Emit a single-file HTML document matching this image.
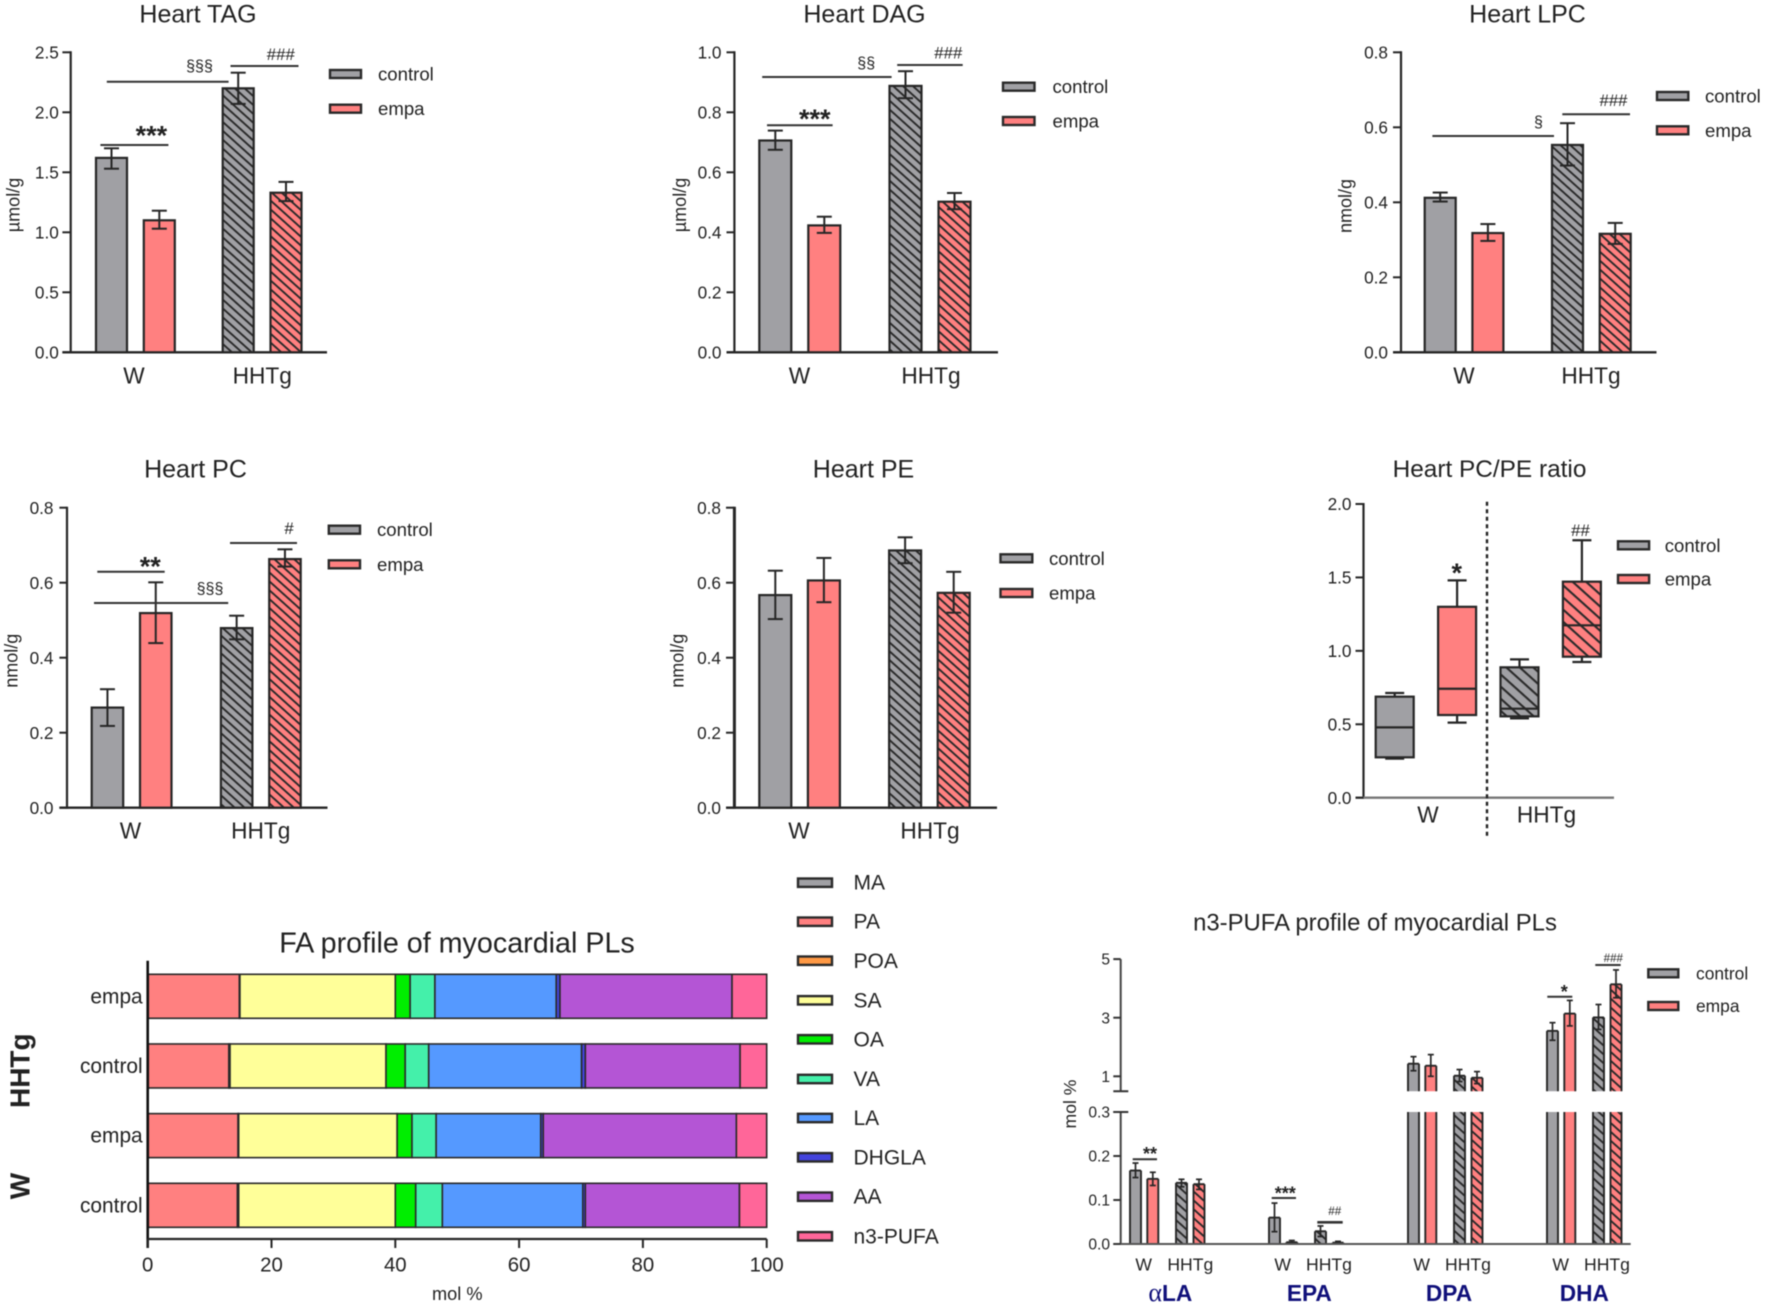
<!DOCTYPE html>
<html lang="en">
<head>
<meta charset="utf-8">
<title>Myocardial lipid panels</title>
<style>
html,body{margin:0;padding:0;background:#fff;}
svg{display:block;filter:blur(0.45px);}
text{font-family:"Liberation Sans",Arial,sans-serif;fill:#222;}
.title{font-size:25px;text-anchor:middle;}
.cat{font-size:22.7px;text-anchor:middle;}
.leg{font-size:18.6px;}
.ylab{font-size:18px;text-anchor:middle;}
.sec{font-size:16px;text-anchor:middle;}
.hash{font-size:16.8px;text-anchor:middle;}
.star{font-size:27px;text-anchor:middle;font-weight:bold;}
.sig{stroke:#333;stroke-width:2;}
.sw{stroke:#2a2a2a;stroke-width:2.4;}
.gray{fill:#a0a0a4;}
.red{fill:#ff8080;}
.falegt{font-size:21px;}
.group{font-size:28px;font-weight:bold;text-anchor:middle;}
.cat2{font-size:17.6px;text-anchor:middle;}
.fam{font-size:22.7px;font-weight:bold;text-anchor:middle;fill:#10107a;}
.leg2{font-size:17.4px;}
</style>
</head>
<body>
<svg id="figure" xmlns="http://www.w3.org/2000/svg" width="1772" height="1313" viewBox="0 0 1772 1313">
<defs>
<pattern id="hatch-gray" width="6.6" height="6.6" patternUnits="userSpaceOnUse" patternTransform="rotate(42)">
<rect width="6.6" height="6.6" fill="#a0a0a4"/><rect y="0" width="6.6" height="1.9" fill="#2a2a2a"/>
</pattern>
<pattern id="hatch-red" width="6.6" height="6.6" patternUnits="userSpaceOnUse" patternTransform="rotate(42)">
<rect width="6.6" height="6.6" fill="#ff8080"/><rect y="0" width="6.6" height="1.9" fill="#2a2a2a"/>
</pattern>
<pattern id="hatch-gray-wide" width="9" height="9" patternUnits="userSpaceOnUse" patternTransform="rotate(42)">
<rect width="9" height="9" fill="#a0a0a4"/><rect y="0" width="9" height="2.1" fill="#2a2a2a"/>
</pattern>
<pattern id="hatch-red-wide" width="9" height="9" patternUnits="userSpaceOnUse" patternTransform="rotate(42)">
<rect width="9" height="9" fill="#ff8080"/><rect y="0" width="9" height="2.1" fill="#2a2a2a"/>
</pattern>
</defs>
<g id="marks"></g>

<!-- Heart TAG -->
<g transform="translate(-1,0)">
<text class="title" x="199" y="22.5">Heart TAG</text>
<text class="ylab" transform="translate(20.5,205) rotate(-90)">µmol/g</text>
<text class="cat" x="135" y="383.5">W</text>
<text class="cat" x="263.2" y="383.5">HHTg</text>
<line class="sig" x1="107.8" x2="229.6" y1="81.7" y2="81.7"/>
<text class="sec" x="200.5" y="71">§§§</text>
<line class="sig" x1="231.5" x2="299.5" y1="66" y2="66"/>
<text class="hash" x="281.8" y="60">###</text>
<line class="sig" x1="101.4" x2="169.4" y1="145" y2="145"/>
<text class="star" x="152.4" y="144.4">***</text>
<rect class="sw gray" x="331" y="70" width="31" height="8"/>
<text class="leg" x="379" y="80.5">control</text>
<rect class="sw red" x="331" y="104.7" width="31" height="8"/>
<text class="leg" x="379" y="115.2">empa</text>
</g>

<!-- Heart DAG -->
<g transform="translate(-1,0)">
<text class="title" x="865.5" y="22.5">Heart DAG</text>
<text class="ylab" transform="translate(687,205) rotate(-90)">µmol/g</text>
<text class="cat" x="800.5" y="383.5">W</text>
<text class="cat" x="932" y="383.5">HHTg</text>
<line class="sig" x1="763.2" x2="892.6" y1="77" y2="77"/>
<text class="sec" x="867.2" y="67.8">§§</text>
<line class="sig" x1="898.2" x2="963.7" y1="65" y2="65"/>
<text class="hash" x="949.3" y="58.3">###</text>
<line class="sig" x1="768" x2="833.6" y1="125.3" y2="125.3"/>
<text class="star" x="815.8" y="127.8">***</text>
<rect class="sw gray" x="1004" y="82.7" width="31.5" height="8"/>
<text class="leg" x="1053.5" y="93.2">control</text>
<rect class="sw red" x="1004" y="117" width="31.5" height="8"/>
<text class="leg" x="1053.5" y="127.5">empa</text>
</g>

<!-- Heart LPC -->
<g>
<text class="title" x="1527.5" y="22.5">Heart LPC</text>
<text class="ylab" transform="translate(1351.5,206) rotate(-90)">nmol/g</text>
<text class="cat" x="1464" y="383.5">W</text>
<text class="cat" x="1591" y="383.5">HHTg</text>
<line class="sig" x1="1432.4" x2="1554" y1="136" y2="136"/>
<text class="sec" x="1538.5" y="126.8">§</text>
<line class="sig" x1="1562.3" x2="1630" y1="114.3" y2="114.3"/>
<text class="hash" x="1613.5" y="106">###</text>
<rect class="sw gray" x="1657" y="92" width="31.3" height="8"/>
<text class="leg" x="1705" y="102.5">control</text>
<rect class="sw red" x="1657" y="126.3" width="31.3" height="8"/>
<text class="leg" x="1705" y="136.8">empa</text>
</g>

<!-- Heart PC -->
<g transform="translate(-1,0)">
<text class="title" x="196.5" y="477.7">Heart PC</text>
<text class="ylab" transform="translate(18.5,660.7) rotate(-90)">nmol/g</text>
<text class="cat" x="131.5" y="838.7">W</text>
<text class="cat" x="261.7" y="838.7">HHTg</text>
<line class="sig" x1="98.3" x2="165.7" y1="571.7" y2="571.7"/>
<text class="star" x="151.3" y="575.4">**</text>
<line class="sig" x1="95" x2="229.2" y1="603" y2="603"/>
<text class="sec" x="211" y="593.5">§§§</text>
<line class="sig" x1="231" x2="298" y1="543" y2="543"/>
<text class="hash" x="290" y="534">#</text>
<rect class="sw gray" x="329.8" y="525.7" width="31.2" height="8"/>
<text class="leg" x="378" y="536.2">control</text>
<rect class="sw red" x="329.8" y="560.3" width="31.2" height="8"/>
<text class="leg" x="378" y="570.8">empa</text>
</g>

<!-- Heart PE -->
<g transform="translate(-1,0)">
<text class="title" x="864.5" y="477.7">Heart PE</text>
<text class="ylab" transform="translate(684.5,660.7) rotate(-90)">nmol/g</text>
<text class="cat" x="800" y="838.7">W</text>
<text class="cat" x="931" y="838.7">HHTg</text>
<rect class="sw gray" x="1001.5" y="554.3" width="31.8" height="8"/>
<text class="leg" x="1050" y="564.8">control</text>
<rect class="sw red" x="1001.5" y="589" width="31.8" height="8"/>
<text class="leg" x="1050" y="599.5">empa</text>
</g>

<!-- Heart PC/PE ratio -->
<g>
<text class="title" x="1489.5" y="477" style="font-size:24.4px">Heart PC/PE ratio</text>
<text class="cat" x="1428" y="822.7">W</text>
<text class="cat" x="1546.5" y="822.7">HHTg</text>
<line x1="1487" x2="1487" y1="501.7" y2="835.7" stroke="#222" stroke-width="2.4" stroke-dasharray="4 3.5"/>
<text class="star" x="1456.8" y="582">*</text>
<text class="hash" x="1580.5" y="536">##</text>
<rect class="sw gray" x="1618" y="541.3" width="31.1" height="8"/>
<text class="leg" x="1664.7" y="551.8">control</text>
<rect class="sw red" x="1618" y="575" width="31.1" height="8"/>
<text class="leg" x="1664.7" y="585.5">empa</text>
</g>

<!-- FA profile -->
<g>
<text x="457" y="952.7" text-anchor="middle" font-size="28.7">FA profile of myocardial PLs</text>
<text class="group" transform="translate(29.3,1070.7) rotate(-90)">HHTg</text>
<text class="group" transform="translate(29.3,1186) rotate(-90)">W</text>
<text x="457.3" y="1300" text-anchor="middle" font-size="18.2">mol %</text>
<rect class="sw" fill="#a0a0a4" x="798" y="878.5" width="34" height="8.4"/>
<text class="falegt" x="853.5" y="889.5">MA</text>
<rect class="sw" fill="#ff8080" x="798" y="917.5" width="34" height="8.4"/>
<text class="falegt" x="853.5" y="928.7">PA</text>
<rect class="sw" fill="#ff9944" x="798" y="956.5" width="34" height="8.4"/>
<text class="falegt" x="853.5" y="968.2">POA</text>
<rect class="sw" fill="#ffff99" x="798" y="996.1" width="34" height="8.4"/>
<text class="falegt" x="853.5" y="1007.3">SA</text>
<rect class="sw" fill="#00ee00" x="798" y="1035.1" width="34" height="8.4"/>
<text class="falegt" x="853.5" y="1046.3">OA</text>
<rect class="sw" fill="#44f0aa" x="798" y="1074.8" width="34" height="8.4"/>
<text class="falegt" x="853.5" y="1086">VA</text>
<rect class="sw" fill="#5599ff" x="798" y="1113.8" width="34" height="8.4"/>
<text class="falegt" x="853.5" y="1125">LA</text>
<rect class="sw" fill="#4444dd" x="798" y="1153.1" width="34" height="8.4"/>
<text class="falegt" x="853.5" y="1164.3">DHGLA</text>
<rect class="sw" fill="#b455d5" x="798" y="1192.5" width="34" height="8.4"/>
<text class="falegt" x="853.5" y="1203.7">AA</text>
<rect class="sw" fill="#ff6699" x="798" y="1232.1" width="34" height="8.4"/>
<text class="falegt" x="853.5" y="1243.3">n3-PUFA</text>
</g>

<!-- n3-PUFA profile -->
<g>
<text x="1375" y="930.7" text-anchor="middle" font-size="23.9">n3-PUFA profile of myocardial PLs</text>
<text class="cat2" transform="translate(1076,1104) rotate(-90)">mol %</text>
<text class="cat2" x="1143.7" y="1270.7">W</text>
<text class="cat2" x="1190.3" y="1270.7">HHTg</text>
<text class="cat2" x="1282.7" y="1270.7">W</text>
<text class="cat2" x="1329" y="1270.7">HHTg</text>
<text class="cat2" x="1421.7" y="1270.7">W</text>
<text class="cat2" x="1468" y="1270.7">HHTg</text>
<text class="cat2" x="1560.7" y="1270.7">W</text>
<text class="cat2" x="1607" y="1270.7">HHTg</text>
<text class="fam" x="1170.3" y="1301"><tspan style="font-family:'Liberation Serif',serif;font-weight:normal;font-size:26px;fill:#10107a">α</tspan>LA</text>
<text class="fam" x="1309.3" y="1301">EPA</text>
<text class="fam" x="1449" y="1301">DPA</text>
<text class="fam" x="1584.3" y="1301">DHA</text>
<line class="sig" x1="1132.7" x2="1157" y1="1159.3" y2="1159.3"/>
<text class="star" style="font-size:18px" x="1150" y="1160">**</text>
<line class="sig" x1="1271.7" x2="1296" y1="1198" y2="1198"/>
<text class="star" style="font-size:18px" x="1285.3" y="1199.5">***</text>
<line class="sig" style="stroke-width:2.6" x1="1317.3" x2="1342.7" y1="1222.3" y2="1222.3"/>
<text class="hash" style="font-size:11.7px" x="1334.7" y="1215.2">##</text>
<line class="sig" x1="1547.3" x2="1572.3" y1="996.7" y2="996.7"/>
<text class="star" style="font-size:18px" x="1564.3" y="997.8">*</text>
<line class="sig" x1="1595.3" x2="1620.7" y1="965" y2="965"/>
<text class="hash" style="font-size:11.6px" x="1613.3" y="961.9">###</text>
<rect class="sw gray" x="1648.3" y="969.3" width="30" height="8"/>
<text class="leg2" x="1696" y="979.4">control</text>
<rect class="sw red" x="1648.3" y="1002" width="30" height="8"/>
<text class="leg2" x="1696" y="1012.1">empa</text>
</g>
</svg>

<script>
// ---- Data: order is W control, W empa, HHTg control, HHTg empa ----
const tagValues = [1.62, 1.10, 2.20, 1.33];
const tagErrHigh = [1.70, 1.18, 2.33, 1.42];
const tagErrLow = [1.53, 1.03, 2.07, 1.26];
const tagTicks = [0, 0.5, 1.0, 1.5, 2.0, 2.5];

const dagValues = [0.706, 0.423, 0.888, 0.502];
const dagErrHigh = [0.739, 0.452, 0.937, 0.531];
const dagErrLow = [0.675, 0.398, 0.847, 0.477];
const dagTicks = [0, 0.2, 0.4, 0.6, 0.8, 1.0];

const lpcValues = [0.412, 0.318, 0.553, 0.316];
const lpcErrHigh = [0.426, 0.342, 0.611, 0.345];
const lpcErrLow = [0.402, 0.297, 0.498, 0.289];
const lpcTicks = [0, 0.2, 0.4, 0.6, 0.8];

const pcValues = [0.267, 0.519, 0.479, 0.663];
const pcErrHigh = [0.316, 0.601, 0.512, 0.689];
const pcErrLow = [0.218, 0.439, 0.449, 0.643];
const pcTicks = [0, 0.2, 0.4, 0.6, 0.8];

const peValues = [0.567, 0.606, 0.686, 0.573];
const peErrHigh = [0.632, 0.666, 0.721, 0.629];
const peErrLow = [0.503, 0.548, 0.652, 0.520];
const peTicks = [0, 0.2, 0.4, 0.6, 0.8];

const ratioWhiskerHigh = [0.713, 1.48, 0.942, 1.753];
const ratioQ3 = [0.688, 1.30, 0.888, 1.471];
const ratioMedian = [0.479, 0.742, 0.606, 1.174];
const ratioQ1 = [0.275, 0.563, 0.554, 0.96];
const ratioWhiskerLow = [0.266, 0.511, 0.54, 0.924];
const ratioTicks = [0, 0.5, 1.0, 1.5, 2.0];

// FA stacked bars: control W, empa W, control HHTg, empa HHTg
const faCategories = ['control', 'empa', 'control', 'empa'];
const faMA = [0.1, 0.1, 0.1, 0.1];
const faPA = [14.4, 14.5, 13.0, 14.7];
const faPOA = [0.2, 0.1, 0.2, 0.1];
const faSA = [25.3, 25.6, 25.2, 25.1];
const faOA = [3.3, 2.4, 3.1, 2.4];
const faVA = [4.3, 3.9, 3.8, 4.0];
const faLA = [22.7, 16.9, 24.7, 19.6];
const faDHGLA = [0.4, 0.4, 0.6, 0.6];
const faAA = [24.9, 31.2, 25.0, 27.8];
const faN3 = [4.4, 4.9, 4.3, 5.6];
const faTicks = [0, 20, 40, 60, 80, 100];

// n3-PUFA: each family W control, W empa, HHTg control, HHTg empa
const n3AlaValues = [0.167, 0.148, 0.139, 0.136];
const n3AlaHigh = [0.184, 0.163, 0.147, 0.147];
const n3AlaLow = [0.151, 0.133, 0.130, 0.124];
const n3EpaValues = [0.060, 0.004, 0.029, 0.003];
const n3EpaHigh = [0.093, 0.008, 0.041, 0.006];
const n3EpaLow = [0.028, 0.000, 0.017, 0.000];
const n3DpaValues = [1.43, 1.36, 1.02, 0.95];
const n3DpaHigh = [1.67, 1.74, 1.23, 1.16];
const n3DpaLow = [1.19, 1.00, 0.82, 0.75];
const n3DhaValues = [2.55, 3.14, 3.01, 4.14];
const n3DhaHigh = [2.83, 3.59, 3.45, 4.63];
const n3DhaLow = [2.23, 2.72, 2.60, 3.68];
const n3UpperTicks = [1, 3, 5];
const n3LowerTicks = [0, 0.1, 0.2, 0.3];

// ---- Drawing ----
const NS = 'http://www.w3.org/2000/svg';
const root = document.getElementById('marks');
const INK = '#262626';
const FILLS = ['#a0a0a4', '#ff8080', 'url(#hatch-gray)', 'url(#hatch-red)'];
const BOX_FILLS = ['#a0a0a4', '#ff8080', 'url(#hatch-gray-wide)', 'url(#hatch-red-wide)'];
const BAR_NAMES = ['w-control', 'w-empa', 'hhtg-control', 'hhtg-empa'];

function mk(parent, tag, attrs, name) {
  const el = document.createElementNS(NS, tag);
  for (const k in attrs) el.setAttribute(k, attrs[k]);
  
  
  parent.appendChild(el);
  return el;
}
function line(parent, x1, y1, x2, y2, w, name, color) {
  return mk(parent, 'line', {x1, y1, x2, y2, stroke: color || INK, 'stroke-width': w}, name);
}
function label(parent, x, y, str, size, anchor, name) {
  const t = mk(parent, 'text', {x, y, 'font-size': size, 'text-anchor': anchor}, name);
  t.textContent = str;
  return t;
}
function yAxis(g, c, ticks) {
  const yS = v => c.base - (v / c.max) * (c.base - c.top);
  line(g, c.axisX, c.top - 1, c.axisX, c.base + 1, c.axisW || 2.2, 'y-axis');
  line(g, c.tickX, c.base, c.end, c.base, 2.4, 'x-axis', c.baseColor);
  ticks.forEach(t => {
    line(g, c.tickX, yS(t), c.axisX, yS(t), 2, 'y-tick');
    label(g, c.labelX, yS(t) + 6.2, t.toFixed(1), 17.2, 'end', 'y-tick-label');
  });
  return yS;
}
function barPanel(name, c, ticks, values, high, low) {
  const g = mk(root, 'g', {}, name);
  const yS = yAxis(g, c, ticks);
  values.forEach((v, i) => {
    const x = c.start + i * c.pitch + (i >= 2 ? c.gap : 0);
    mk(g, 'rect', {x, y: yS(v), width: c.w, height: c.base - yS(v), fill: FILLS[i], stroke: INK, 'stroke-width': 2.2}, 'bar-' + BAR_NAMES[i]);
    const cx = x + c.w / 2;
    line(g, cx, yS(high[i]), cx, yS(low[i]), 2, 'error-bar');
    line(g, cx - 7.5, yS(high[i]), cx + 7.5, yS(high[i]), 2, 'error-cap-high');
    line(g, cx - 7.5, yS(low[i]), cx + 7.5, yS(low[i]), 2, 'error-cap-low');
  });
}

barPanel('heart-tag-chart', {axisX: 70.7, tickX: 62.4, labelX: 58.8, top: 52.3, base: 352.3, end: 327, max: 2.5, start: 96, w: 31, pitch: 47.8, gap: 31.1}, tagTicks, tagValues, tagErrHigh, tagErrLow);
barPanel('heart-dag-chart', {axisX: 734.4, tickX: 726.5, labelX: 721.5, top: 52.3, base: 352.3, end: 998, max: 1, start: 759.3, w: 32, pitch: 49, gap: 32.2}, dagTicks, dagValues, dagErrHigh, dagErrLow);
barPanel('heart-lpc-chart', {axisX: 1401, tickX: 1393, labelX: 1388, top: 52.3, base: 352.3, end: 1656.5, max: 0.8, start: 1424.7, w: 31, pitch: 47.7, gap: 31.9}, lpcTicks, lpcValues, lpcErrHigh, lpcErrLow);
barPanel('heart-pc-chart', {axisX: 67, tickX: 59.4, labelX: 53.5, top: 507.7, base: 807.7, end: 327.5, max: 0.8, start: 91.7, w: 31.5, pitch: 48.3, gap: 32.6}, pcTicks, pcValues, pcErrHigh, pcErrLow);
barPanel('heart-pe-chart', {axisX: 734.4, tickX: 726, labelX: 721, top: 507.7, base: 807.7, end: 997, max: 0.8, axisW: 3, start: 759.3, w: 32, pitch: 48.6, gap: 32.6}, peTicks, peValues, peErrHigh, peErrLow);

// Box plot
(function () {
  const c = {axisX: 1363.5, tickX: 1355.5, labelX: 1351.5, top: 504, base: 797.7, end: 1614, max: 2, baseColor: '#777', start: 1375.7, w: 38, pitch: 62.4};
  const g = mk(root, 'g', {}, 'heart-ratio-chart');
  const yS = yAxis(g, c, ratioTicks);
  ratioMedian.forEach((m, i) => {
    const x = c.start + i * c.pitch;
    const cx = x + c.w / 2;
    line(g, cx, yS(ratioWhiskerHigh[i]), cx, yS(ratioWhiskerLow[i]), 2.2, 'box-whisker');
    line(g, cx - 9.5, yS(ratioWhiskerHigh[i]), cx + 9.5, yS(ratioWhiskerHigh[i]), 2.2, 'box-whisker-cap');
    line(g, cx - 9.5, yS(ratioWhiskerLow[i]), cx + 9.5, yS(ratioWhiskerLow[i]), 2.2, 'box-whisker-cap');
    mk(g, 'rect', {x, y: yS(ratioQ3[i]), width: c.w, height: yS(ratioQ1[i]) - yS(ratioQ3[i]), fill: BOX_FILLS[i], stroke: INK, 'stroke-width': 2.2}, 'box-' + BAR_NAMES[i]);
    line(g, x, yS(m), x + c.w, yS(m), 2.2, 'box-median');
  });
})();

// FA stacked bars
const faSeries = [faMA, faPA, faPOA, faSA, faOA, faVA, faLA, faDHGLA, faAA, faN3];
const faSeriesNames = ['ma', 'pa', 'poa', 'sa', 'oa', 'va', 'la', 'dhgla', 'aa', 'n3-pufa'];
const faColors = ['#a0a0a4', '#ff8080', '#ff9944', '#ffff99', '#00ee00', '#44f0aa', '#5599ff', '#4444dd', '#b455d5', '#ff6699'];
(function () {
  const g = mk(root, 'g', {}, 'fa-profile-chart');
  const PER = 6.19;
  const xS = v => 147.7 + v * PER;
  const barTop = i => 1183.3 - i * 69.67;
  faCategories.forEach((cat, i) => {
    let sum = 0;
    faSeries.forEach((s, k) => {
      mk(g, 'rect', {x: xS(sum), y: barTop(i), width: s[i] * PER, height: 44, fill: faColors[k], stroke: '#2a2a2a', 'stroke-width': 1.6}, 'segment-' + faSeriesNames[k]);
      sum += s[i];
    });
    label(g, 142.7, barTop(i) + 29, cat, 20.9, 'end', 'category-label');
  });
  line(g, 147.7, 960.7, 147.7, 1248, 2.6, 'y-axis', '#111');
  line(g, 147.7, 1239, xS(100), 1239, 2.2, 'x-axis');
  faTicks.forEach(t => {
    line(g, xS(t), 1239, xS(t), 1248, 2, 'x-tick');
    label(g, xS(t), 1271.7, String(t), 20.4, 'middle', 'x-tick-label');
  });
})();

// n3-PUFA broken axis
const n3Families = [
  {name: 'ala', start: 1130, values: n3AlaValues, high: n3AlaHigh, low: n3AlaLow},
  {name: 'epa', start: 1269, values: n3EpaValues, high: n3EpaHigh, low: n3EpaLow},
  {name: 'dpa', start: 1408, values: n3DpaValues, high: n3DpaHigh, low: n3DpaLow},
  {name: 'dha', start: 1547, values: n3DhaValues, high: n3DhaHigh, low: n3DhaLow}
];
(function () {
  const g = mk(root, 'g', {}, 'n3-profile-chart');
  const yLow = v => 1244 - v * 440;
  const yHigh = v => 1076.3 - (v - 1) * 29.3;
  const yS = v => (v <= 0.3 ? yLow(v) : yHigh(v));
  const offsets = [0, 17.3, 46, 63.5];
  const w = 11;
  const BREAK_TOP = yHigh(0.49);
  const BREAK_BOTTOM = yLow(0.3);
  n3Families.forEach(f => {
    f.values.forEach((v, i) => {
      const x = f.start + offsets[i];
      const cx = x + w / 2;
      const seg = (y1, y2, nm) => {
        mk(g, 'rect', {x, y: y1, width: w, height: y2 - y1, fill: FILLS[i]}, nm);
        line(g, x, y1, x, y2, 1.9, 'bar-edge');
        line(g, x + w, y1, x + w, y2, 1.9, 'bar-edge');
      };
      if (v > 0.3) {
        seg(BREAK_BOTTOM, 1244, 'bar-' + f.name + '-lower');
        seg(yHigh(v), BREAK_TOP, 'bar-' + f.name + '-upper');
      } else {
        seg(yLow(v), 1244, 'bar-' + f.name);
      }
      line(g, x, yS(v), x + w, yS(v), 1.9, 'bar-top');
      line(g, cx, yS(f.high[i]), cx, yS(f.low[i]), 1.7, 'error-bar');
      line(g, cx - 3, yS(f.high[i]), cx + 3, yS(f.high[i]), 1.7, 'error-cap-high');
      line(g, cx - 3, yS(f.low[i]), cx + 3, yS(f.low[i]), 1.7, 'error-cap-low');
    });
  });
  line(g, 1120.7, yHigh(5), 1120.7, BREAK_TOP, 2, 'y-axis-upper', '#444');
  line(g, 1120.7, BREAK_BOTTOM, 1120.7, 1244, 2, 'y-axis-lower', '#444');
  line(g, 1113.3, BREAK_TOP, 1128.3, BREAK_TOP, 2, 'axis-break-mark', '#333');
  line(g, 1113.3, BREAK_BOTTOM, 1128.3, BREAK_BOTTOM, 2, 'axis-break-mark', '#333');
  line(g, 1113.3, 1244, 1630.7, 1244, 2, 'x-axis', '#555');
  n3UpperTicks.forEach(t => {
    line(g, 1113.3, yHigh(t), 1120.7, yHigh(t), 2, 'y-tick', '#333');
    label(g, 1110, yHigh(t) + 5.6, String(t), 15.6, 'end', 'y-tick-label');
  });
  n3LowerTicks.forEach(t => {
    line(g, 1113.3, yLow(t), 1120.7, yLow(t), 2, 'y-tick', '#333');
    label(g, 1110, yLow(t) + 5.6, t.toFixed(1), 15.6, 'end', 'y-tick-label');
  });
})();
</script>
</body>
</html>
